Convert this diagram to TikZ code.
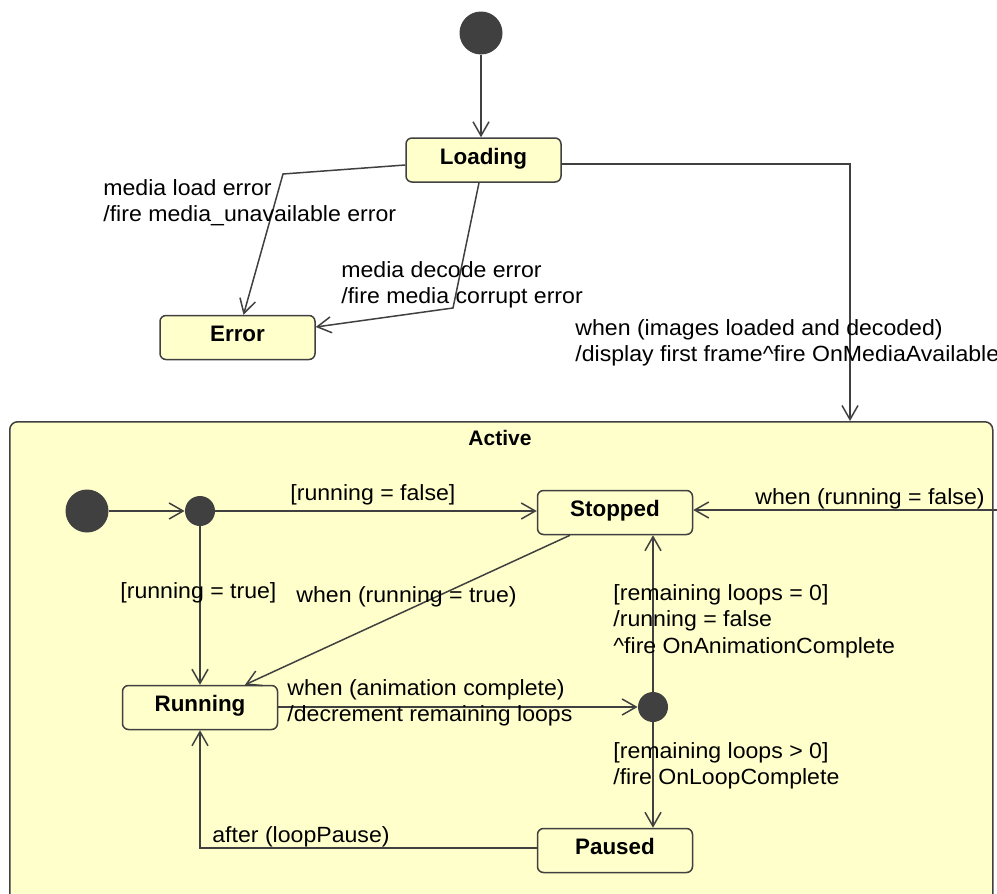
\documentclass[tikz,border=0pt]{standalone}
\usepackage{fontspec}
\setmainfont{Liberation Sans}
\newfontfamily\lblfont{Liberation Sans}[FakeStretch=1.05]
\usetikzlibrary{arrows.meta,calc}
\definecolor{stfill}{HTML}{FFFFCC}
\definecolor{stline}{HTML}{404040}
\tikzset{
  state/.style={draw=stline,line width=0.75pt,fill=stfill,rounded corners=3pt,
                minimum width=77.5pt,minimum height=22pt,inner sep=0pt,
                text height=8pt,text depth=4pt,
                font=\fontsize{11.2}{14}\selectfont\bfseries},
  initdot/.style={circle,fill=stline,minimum size=21.5pt,inner sep=0pt},
  junc/.style={circle,fill=stline,minimum size=15pt,inner sep=0pt},
  ln/.style={draw=stline,line width=0.75pt,-{Straight Barb[length=7pt,width=8pt]}},
  lbl/.style={font={\lblfont\fontsize{11}{13.25}\selectfont},anchor=north west,
              inner sep=0pt,align=left},
}

\begin{document}
\begin{tikzpicture}[x=0.5pt,y=-0.5pt]
\path[use as bounding box,clip] (0,0) rectangle (997,894);

% ------------------------------------------------ outer machine
\node[initdot] (init) at (481,33) {};
\node[state] (loading) at (483.5,160) {Loading};
\node[state] (error) at (237.5,337.5) {Error};

% composite state, runs on past the lower edge
\node[draw=stline,line width=0.75pt,fill=stfill,rounded corners=4pt,
      anchor=north west,minimum width=491.5pt,minimum height=250pt,
      inner sep=0pt] (active) at (9,421) {};
\node[font=\fontsize{10.5}{13}\selectfont\bfseries] (activeTtl) at (500,438) {Active};

\coordinate (bendLoad) at (283,174);
\coordinate (bendDec) at (453,308);
\coordinate (actIn) at (850,421);

\draw[ln] (init) -- (init |- loading.north);
\draw[ln] (loading.west |- 0,165) -- (bendLoad) -- ($(error.north)+(6,0)$);
\draw[ln] (loading.south -| 479,0) -- (bendDec) -- (error.east |- 0,327);
\draw[ln] (loading.east |- 0,164) -| (actIn);

\node[lbl] (tLoadErr) at (103,179) {media load error\\/fire media\_unavailable error};
\node[lbl] (tDecErr) at (341,261) {media decode error\\/fire media corrupt error};
\node[lbl] (tReady) at (575,319)
  {when (images loaded and decoded)\\/display first frame\textasciicircum fire OnMediaAvailable};

% ------------------------------------------------ inside Active
\node[initdot] (start) at (87,511) {};
\node[junc] (fork) at (200,511) {};
\node[state] (stopped) at (615,512.5) {Stopped};
\node[state] (running) at (200,707.5) {Running};
\node[junc] (choice) at (653,707) {};
\node[state] (paused) at (615,850.5) {Paused};

\coordinate (fromOut) at (1000,510);

\draw[ln] (start) -- (fork);
\draw[ln] (fork) -- (stopped.west |- fork);
\draw[ln] (fork) -- (running.north -| fork);
\draw[ln] (stopped.south -| 570,0) -- (running.north -| 245,0);
\draw[ln] (running.east |- choice) -- (choice);
\draw[ln] (choice) -- (stopped.south -| choice);
\draw[ln] (choice) -- (paused.north -| choice);
\draw[ln] (paused.west |- 0,848) -| (running.south);
\draw[ln] (fromOut) -- (stopped.east |- fromOut);

\node[lbl] (tFalse) at (290,484) {[running = false]};
\node[lbl] (tTrue) at (120,582) {[running = true]};
\node[lbl] (tWhenTrue) at (296,586) {when (running = true)};
\node[lbl] (tAnimDone) at (287,679) {when (animation complete)\\/decrement remaining loops};
\node[lbl] (tZero) at (613,584)
  {[remaining loops = 0]\\/running = false\\\textasciicircum fire OnAnimationComplete};
\node[lbl] (tMore) at (613,742) {[remaining loops > 0]\\/fire OnLoopComplete};
\node[lbl] (tPause) at (212,826) {after (loopPause)};
\node[lbl] (tWhenFalse) at (755,488) {when (running = false)};

\end{tikzpicture}
\end{document}
